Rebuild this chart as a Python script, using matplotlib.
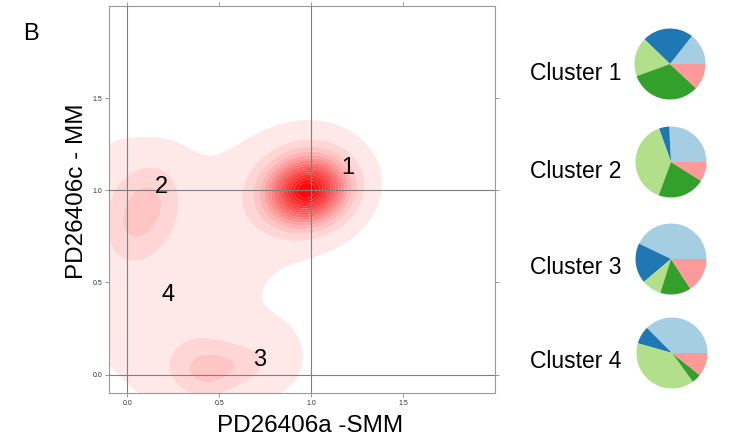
import numpy as np
import matplotlib
matplotlib.use("Agg")
import matplotlib.pyplot as plt
from matplotlib.colors import LinearSegmentedColormap

plt.rcParams['font.family'] = ['Liberation Sans', 'DejaVu Sans']

# Density components: centre x/y, spread x/y, correlation, peak height
comp_x = [0.98, 0.90, 1.00, 0.08, 0.00, 0.22, 0.70, 0.42, 0.58, 0.48, 0.78, -0.08]
comp_y = [1.00, 0.97, 1.05, 0.88, 1.00, 0.50, 0.90, 0.02, 0.05, 0.03, 0.12, 0.28]
comp_sx = [0.13, 0.14, 0.22, 0.12, 0.20, 0.33, 0.28, 0.11, 0.09, 0.24, 0.13, 0.12]
comp_sy = [0.11, 0.12, 0.20, 0.16, 0.20, 0.38, 0.25, 0.10, 0.06, 0.14, 0.13, 0.12]
comp_rho = [0.1, 0.0, 0.0, 0.4, 0.0, 0.0, 0.0, 0.0, 0.0, 0.0, 0.0, 0.0]
comp_amp = [0.88, 0.06, 0.08, 0.12, 0.05, 0.06, 0.03, 0.085, 0.035, 0.07, 0.035, 0.02]

# Cluster annotations
cluster_ids = ["1", "2", "3", "4"]
cluster_lx = [1.20, 0.185, 0.72, 0.22]
cluster_ly = [1.12, 1.02, 0.08, 0.43]

# Mutation-signature composition per cluster (percent)
pie_colors = ["#a6cee3", "#1f78b4", "#b2df8a", "#33a02c", "#fb9a99"]
pie_values = [
    [14.4, 23.3, 17.8, 32.5, 11.9],
    [25.8, 4.7, 38.9, 21.7, 8.9],
    [42.8, 18.3, 9.0, 14.0, 15.8],
    [37.5, 8.1, 39.4, 4.3, 10.7],
]
pie_names = ["Cluster 1", "Cluster 2", "Cluster 3", "Cluster 4"]

ticks = [0.0, 0.5, 1.0, 1.5]
tick_labels = ["0.0", "0.5", "1.0", "1.5"]

W, H = 738, 441
fig = plt.figure(figsize=(W / 100, H / 100), dpi=100)

ax = fig.add_axes([109 / W, 1 - 393 / H, (495 - 109) / W, (393 - 6) / H])

gx = np.linspace(-0.1, 2.0, 420)
gy = np.linspace(-0.1, 2.0, 420)
X, Y = np.meshgrid(gx, gy)
Z = np.zeros_like(X)
for cx, cy, sx, sy, r, a in zip(comp_x, comp_y, comp_sx, comp_sy, comp_rho, comp_amp):
    u = (X - cx) / sx
    v = (Y - cy) / sy
    Z += a * np.exp(-(u * u - 2 * r * u * v + v * v) / (2 * (1 - r * r)))
Z /= Z.max()

levels = np.linspace(0.025, 1.0, 17)
cmap = LinearSegmentedColormap.from_list(
    "wr", [(0.0, "#fff0f0"), (0.45, "#ff7070"), (1.0, "#ff0000")])
ax.contourf(X, Y, Z, levels=list(levels[:-1]) + [1.01], cmap=cmap, antialiased=True)

for v in (0.0, 1.0):
    ax.axvline(v, color="#7f7f7f", lw=0.8, zorder=3)
    ax.axhline(v, color="#7f7f7f", lw=0.8, zorder=3)

for t, lx, ly in zip(cluster_ids, cluster_lx, cluster_ly):
    ax.text(lx, ly, t, fontsize=17, ha="center", va="center", zorder=4)

ax.set_xlim(-0.1, 2.0)
ax.set_ylim(-0.1, 2.0)
ax.set_xticks(ticks)
ax.set_xticklabels(tick_labels)
ax.set_yticks(ticks)
ax.set_yticklabels(tick_labels)
ax.tick_params(which="both", direction="out", length=3, width=0.6, color="#888888",
               labelsize=5, labelcolor="#333333", pad=2,
               top=True, right=True, labeltop=False, labelright=False)
for s in ax.spines.values():
    s.set_color("#999999")
    s.set_linewidth(0.8)

fig.text(310 / W, 1 - 426 / H, "PD26406a -SMM", fontsize=17.5, ha="center", va="center")
fig.text(77 / W, 1 - 191 / H, "PD26406c - MM", fontsize=17.5, ha="center", va="center",
         rotation=90)
fig.text(31 / W, 1 - 34 / H, "B", fontsize=17, ha="center", va="center")

pie_cx = [670, 671, 671, 672]
pie_cy = [64, 162, 259, 353]
rad = 35.5
for name, vals, px, py in zip(pie_names, pie_values, pie_cx, pie_cy):
    pax = fig.add_axes([(px - rad) / W, 1 - (py + rad) / H, 2 * rad / W, 2 * rad / H])
    pax.pie(vals, colors=pie_colors, startangle=0, counterclock=True,
            wedgeprops=dict(linewidth=0))
    pax.set_xlim(-1, 1)
    pax.set_ylim(-1, 1)
    pax.set_aspect("equal")
    pax.axis("off")
    fig.text(576 / W, 1 - (py + 9) / H, name, fontsize=16.5, ha="center", va="center")

fig.savefig("out.png", dpi=100)
